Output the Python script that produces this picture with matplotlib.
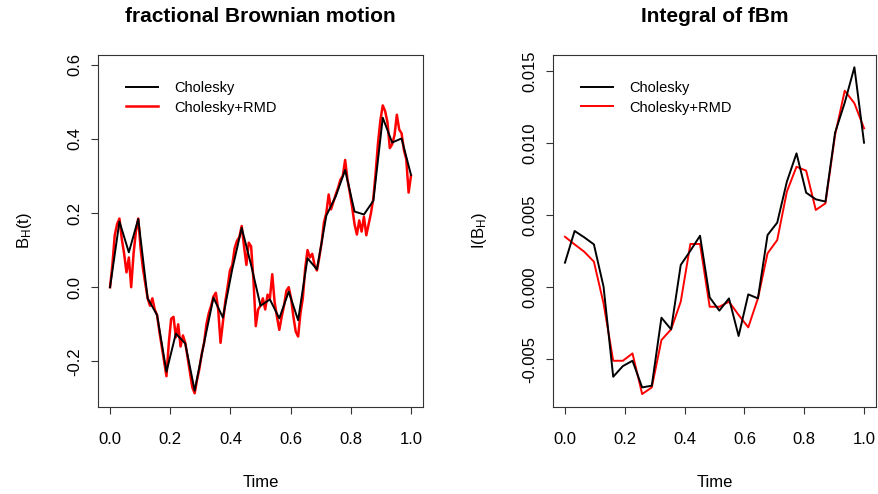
import numpy as np
import matplotlib
matplotlib.use("Agg")
import matplotlib.pyplot as plt

plt.rcParams['font.family'] = ['Liberation Sans', 'DejaVu Sans']
plt.rcParams['mathtext.default'] = 'regular'

# fBm on a coarse grid (Cholesky, 33 points on [0, 1])
fbm_chol = [0.000, 0.177, 0.094, 0.184, -0.030, -0.075, -0.228, -0.125, -0.152,
            -0.279, -0.150, -0.028, -0.082, 0.049, 0.160, 0.060, -0.050, -0.033,
            -0.084, -0.012, -0.089, 0.078, 0.048, 0.193, 0.245, 0.316, 0.204,
            0.196, 0.233, 0.457, 0.390, 0.401, 0.303]

# refined path (Cholesky + random midpoint displacement, 129 points on [0, 1])
fbm_rmd = [0.000, 0.060, 0.140, 0.170, 0.185, 0.130, 0.090, 0.040, 0.080,
           0.000, 0.090, 0.150, 0.185, 0.105, 0.050, 0.010, -0.030, -0.050,
           -0.030, -0.060, -0.075, -0.120, -0.160, -0.200, -0.240, -0.150,
           -0.085, -0.080, -0.135, -0.100, -0.160, -0.130, -0.150, -0.190,
           -0.230, -0.270, -0.286, -0.250, -0.220, -0.180, -0.150, -0.100,
           -0.070, -0.050, -0.025, -0.015, -0.060, -0.150, -0.095, -0.040,
           0.000, 0.045, 0.060, 0.105, 0.125, 0.135, 0.165, 0.110, 0.060,
           0.120, 0.110, 0.020, -0.105, -0.060, -0.050, -0.030, -0.060,
           -0.020, -0.030, 0.035, -0.040, -0.080, -0.115, -0.080, -0.050,
           -0.010, 0.000, -0.030, -0.080, -0.120, -0.133, -0.070, -0.030,
           0.050, 0.100, 0.080, 0.090, 0.060, 0.045, 0.080, 0.120, 0.175,
           0.200, 0.250, 0.210, 0.230, 0.250, 0.268, 0.290, 0.300, 0.343,
           0.290, 0.255, 0.215, 0.170, 0.142, 0.180, 0.150, 0.190, 0.140,
           0.170, 0.200, 0.240, 0.310, 0.390, 0.450, 0.490, 0.475, 0.445,
           0.375, 0.385, 0.410, 0.465, 0.425, 0.415, 0.370, 0.345, 0.255,
           0.300]

# integrated paths (32 points on [0, 1])
int_chol = [0.00169, 0.00389, 0.00345, 0.00296, 0.00002, -0.00623, -0.00549,
            -0.00512, -0.00697, -0.00685, -0.00213, -0.00294, 0.00153, 0.00252,
            0.00356, -0.00072, -0.00164, -0.00079, -0.00340, -0.00051, -0.00079,
            0.00361, 0.00447, 0.00731, 0.00928, 0.00655, 0.00609, 0.00593,
            0.01072, 0.01280, 0.01526, 0.01002]
int_rmd = [0.00349, 0.00296, 0.00245, 0.00176, -0.00113, -0.00512, -0.00512,
           -0.00461, -0.00743, -0.00697, -0.00368, -0.00294, -0.00102, 0.00299,
           0.00299, -0.00137, -0.00137, -0.00102, -0.00194, -0.00280, -0.00079,
           0.00234, 0.00326, 0.00662, 0.00835, 0.00808, 0.00535, 0.00581,
           0.01056, 0.01363, 0.01276, 0.01102]

t_chol = np.linspace(0, 1, len(fbm_chol))
t_rmd = np.linspace(0, 1, len(fbm_rmd))
t_int = np.linspace(0, 1, len(int_chol))

W, H = 879, 494
fig = plt.figure(figsize=(W / 100, H / 100), dpi=100)
ax1 = fig.add_axes([98 / W, 1 - 407 / H, 325 / W, 352 / H])
ax2 = fig.add_axes([553 / W, 1 - 407 / H, 323 / W, 352 / H])


def style(ax, yticks, ylabels):
    ax.set_xlim(-0.04, 1.04)
    ax.set_xticks([0, 0.2, 0.4, 0.6, 0.8, 1.0])
    ax.set_xticklabels(['0.0', '0.2', '0.4', '0.6', '0.8', '1.0'])
    ax.set_yticks(yticks)
    ax.set_yticklabels(ylabels, rotation=90, va='center')
    ax.tick_params(axis='both', direction='out', length=5, width=0.8,
                   labelsize=12, color='#333333')
    ax.tick_params(axis='x', pad=13)
    ax.tick_params(axis='y', pad=6)
    for s in ax.spines.values():
        s.set_color('#333333')
        s.set_linewidth(0.8)
    ax.set_xlabel('Time', fontsize=12, labelpad=20)


ax1.plot(t_rmd, fbm_rmd, color='red', lw=1.8, zorder=1, label='Cholesky+RMD')
ax1.plot(t_chol, fbm_chol, color='black', lw=1.4, zorder=2, label='Cholesky')
ax1.set_ylim(-0.323, 0.626)
style(ax1, [-0.2, 0.0, 0.2, 0.4, 0.6], ['-0.2', '0.0', '0.2', '0.4', '0.6'])
ax1.set_ylabel('$B_H(t)$', fontsize=12, labelpad=24)
ax1.set_title('fractional Brownian motion', fontsize=15, fontweight='bold', pad=24)

ax2.plot(t_int, int_rmd, color='red', lw=1.4, zorder=1, label='Cholesky+RMD')
ax2.plot(t_int, int_chol, color='black', lw=1.4, zorder=2, label='Cholesky')
ax2.set_ylim(-0.00833, 0.01611)
style(ax2, [-0.005, 0.0, 0.005, 0.010, 0.015],
      ['-0.005', '0.000', '0.005', '0.010', '0.015'])
ax2.set_ylabel('$I(B_H)$', fontsize=12, labelpad=24)
ax2.set_title('Integral of fBm', fontsize=15, fontweight='bold', pad=24)

for ax, x0 in ((ax1, 28 / 325), (ax2, 28 / 323)):
    h, l = ax.get_legend_handles_labels()
    ax.legend(h[::-1], l[::-1], loc='upper left', bbox_to_anchor=(x0, 0.925),
              frameon=False, fontsize=10.5, handlelength=2.2, handletextpad=1.1,
              labelspacing=0.35, borderpad=0, borderaxespad=0)

fig.savefig('out.png', dpi=100)
